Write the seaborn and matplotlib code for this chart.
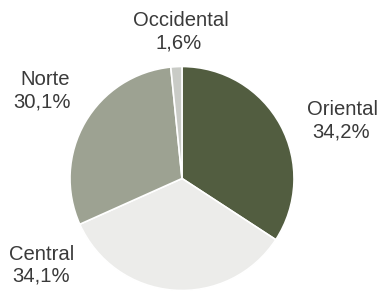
import matplotlib
matplotlib.use("Agg")
import matplotlib.pyplot as plt
import seaborn as sns

regions = ["Oriental", "Central", "Norte", "Occidental"]
shares = [34.2, 34.1, 30.1, 1.6]
share_labels = ["34,2%", "34,1%", "30,1%", "1,6%"]
colors = ["#525d40", "#ececea", "#9da292", "#c9cbc6"]

sns.set_theme(style="white")
plt.rcParams["font.family"] = ["Liberation Sans", "DejaVu Sans"]

W, H = 381, 293
R = 112.0
CX, CY = 182.0, 178.5  # pixel centre (from top)

fig = plt.figure(figsize=(W / 100, H / 100), dpi=100)
ax = fig.add_axes([0, 0, 1, 1])
ax.pie(shares, colors=colors, startangle=90, counterclock=False, radius=1,
       wedgeprops=dict(edgecolor="white", linewidth=1.2))
ax.set_aspect("auto")
ax.set_xlim(-CX / R, (W - CX) / R)
ax.set_ylim(-(H - CY) / R, CY / R)
ax.axis("off")

# label layout in pixel coords (x centre, baseline y from top) for name / value lines
layout = {
    "Oriental": ((342, 115), (341, 137)),
    "Central": ((42, 260), (41, 282)),
    "Norte": ((45, 85), (42, 107)),
    "Occidental": ((181, 26), (179, 48.5)),
}

def to_data(px, py):
    return (px - CX) / R, (CY - py) / R

for name, lab in zip(regions, share_labels):
    (nx, ny), (vx, vy) = layout[name]
    for txt, (px, py) in ((name, (nx, ny)), (lab, (vx, vy))):
        x, y = to_data(px, py)
        ax.text(x, y, txt, ha="center", va="baseline", fontsize=14.6,
                color="#3a3a3a")

fig.savefig("out.png", dpi=100)
